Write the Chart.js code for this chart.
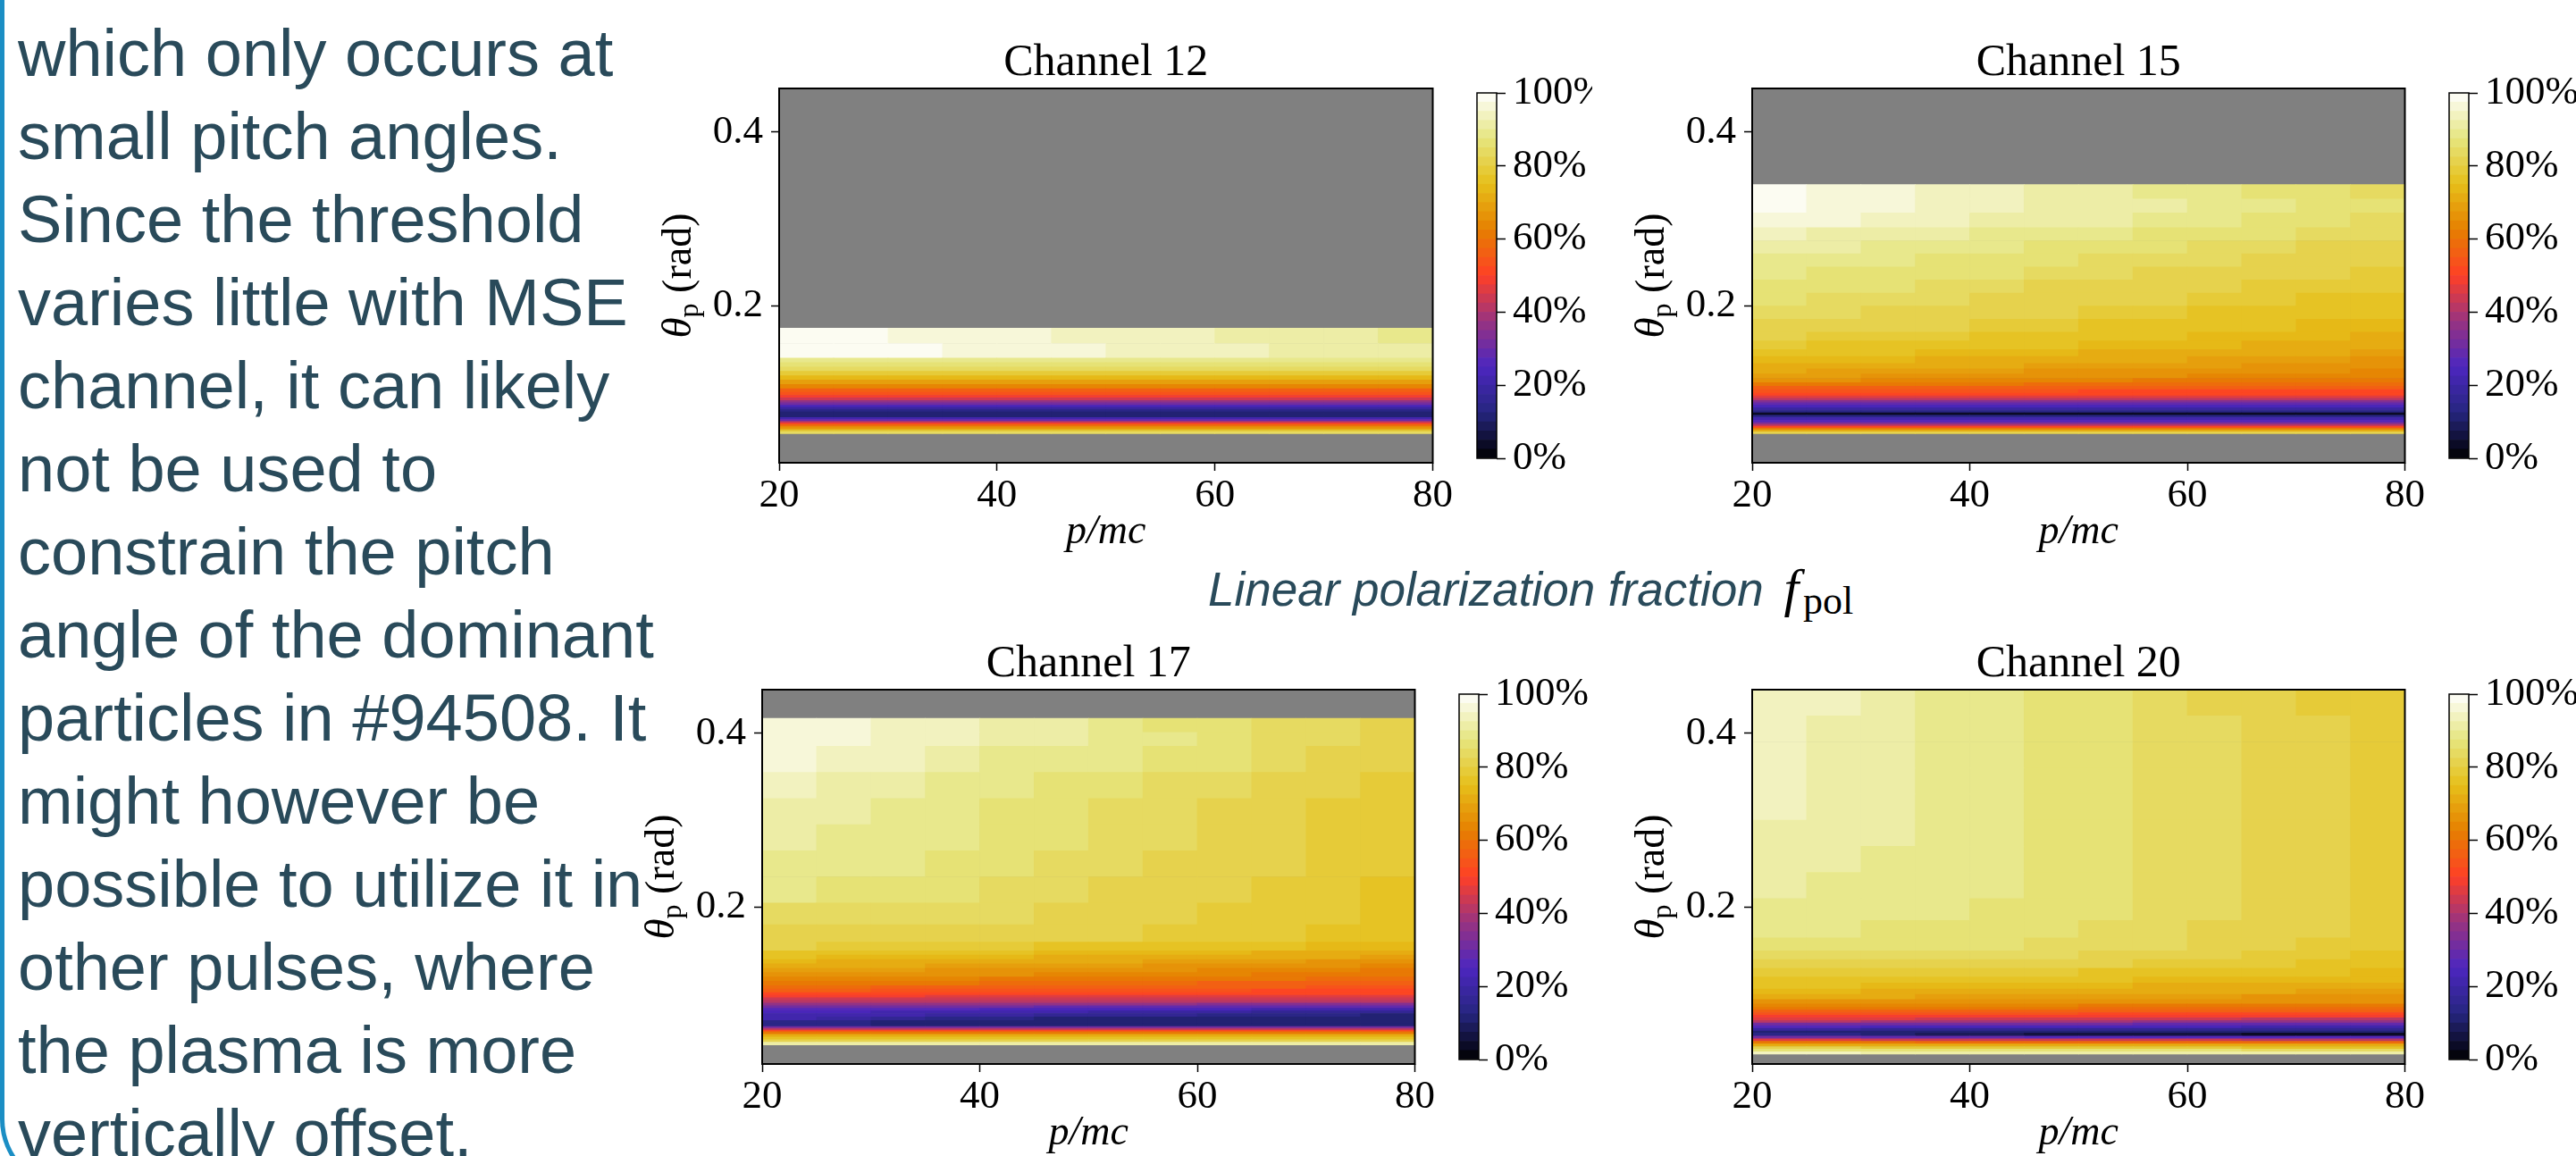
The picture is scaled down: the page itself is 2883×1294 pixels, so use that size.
<!DOCTYPE html>
<html>
<head>
<meta charset="utf-8">
<title>Linear polarization fraction</title>
<script src="https://cdn.jsdelivr.net/npm/chart.js@4.4.1/dist/chart.umd.min.js"></script>
<style>
  html, body { margin: 0; padding: 0; background: #fff; }
  body { width: 2883px; height: 1294px; position: relative; overflow: hidden; }
  #frame {
    position: absolute; left: 0; top: -100px; width: 3000px; height: 1433px; box-sizing: border-box;
    border-left: 5px solid #1b8ec4; border-bottom: 5px solid #1b8ec4; border-bottom-left-radius: 80px;
  }
  #notes {
    position: absolute; left: 20px; top: 13px; margin: 0;
    font: 74px/93px "Liberation Sans", Arial, sans-serif; color: #294a5a; white-space: nowrap;
  }
  #fpol {
    position: absolute; left: 1352px; top: 633px; white-space: nowrap;
    font: italic 53px/53px "Liberation Sans", Arial, sans-serif; color: #294a5a;
  }
  #fpol .f { font: italic 60px "Liberation Serif", serif; line-height: 0; color: #000; margin-left: 8px; }
  #fpol .sub { font: 44px "Liberation Serif", serif; line-height: 0; color: #000; position: relative; top: 9px;
               margin-left: 5px; font-style: normal; }
  canvas { position: absolute; }
</style>
</head>
<body>
<div id="frame"></div>
<div id="notes">which only occurs at<br>small pitch angles.<br>Since the threshold<br>varies little with MSE<br>channel, it can likely<br>not be used to<br>constrain the pitch<br>angle of the dominant<br>particles in #94508. It<br>might however be<br>possible to utilize it in<br>other pulses, where<br>the plasma is more<br>vertically offset.</div>
<div id="fpol">Linear polarization fraction <span class="f">f</span><span class="sub">pol</span></div>

<script>
// ---- grid and axes ----
const pCentres = [22.5, 27.5, 32.5, 37.5, 42.5, 47.5, 52.5, 57.5, 62.5, 67.5, 72.5, 77.5];
const pTicks = [20, 40, 60, 80];
const thetaTicks = [0.2, 0.4];
const cbarTicks = [0, 20, 40, 60, 80, 100];

// f_pol (%) per theta band, bottom to top; one value = same across p
const ch12Theta = [0.0534, 0.0555, 0.0575, 0.059, 0.0615, 0.064, 0.066, 0.068, 0.070, 0.072, 0.075, 0.0785,
  0.081, 0.0835, 0.086, 0.089, 0.0915, 0.0945, 0.0975, 0.101, 0.105, 0.110, 0.115, 0.120, 0.125, 0.130,
  0.135, 0.1403, 0.157, 0.1745];
const ch12Fpol = [[84], [78], [72], [65], [58], [48], [38], [28], [20], [12], [10], [14], [19], [24], [30],
  [37], [44], [49], [53], [57], [63], [69], [74], [79], [84], [87], [89],
  [99, 99, 99, 96, 96, 96, 94, 94, 94, 91, 91, 91],
  [99, 99, 96, 96, 96, 94, 94, 94, 91, 91, 91, 89]];

const ch15Theta = [0.0534, 0.0555, 0.058, 0.060, 0.062, 0.064, 0.066, 0.069, 0.072, 0.0745, 0.0775, 0.080,
  0.083, 0.086, 0.089, 0.0915, 0.094, 0.097, 0.100, 0.104, 0.108, 0.112, 0.117, 0.122, 0.128, 0.134, 0.142,
  0.150, 0.160, 0.170, 0.185, 0.200, 0.215, 0.230, 0.245, 0.260, 0.275, 0.290, 0.307, 0.323, 0.3397];
const ch15Fpol = [[80], [70], [60], [50], [42], [34], [26], [20], [14], [4], [13], [18], [23], [28], [34],
  [40], [45], [50],
  [53, 53, 53, 53, 53, 53, 52, 52, 52, 52, 52, 52],
  [57, 57, 57, 56, 56, 56, 56, 56, 55, 55, 55, 55],
  [61, 61, 60, 60, 60, 59, 59, 59, 59, 58, 58, 58],
  [65, 65, 64, 64, 63, 63, 63, 62, 62, 62, 61, 61],
  [68, 68, 67, 67, 66, 66, 65, 65, 64, 64, 63, 63],
  [70, 69, 69, 68, 68, 67, 67, 66, 66, 65, 65, 64],
  [72, 71, 71, 70, 70, 69, 69, 68, 68, 67, 67, 66],
  [74, 73, 73, 72, 71, 71, 70, 70, 69, 68, 68, 67],
  [76, 75, 75, 74, 73, 73, 72, 72, 71, 70, 70, 69],
  [78, 77, 77, 76, 75, 75, 74, 73, 73, 72, 71, 70],
  [80, 79, 79, 78, 77, 76, 76, 75, 74, 73, 73, 72],
  [82, 81, 80, 80, 79, 78, 77, 77, 76, 75, 74, 74],
  [84, 83, 82, 81, 81, 80, 79, 78, 77, 77, 76, 75],
  [85, 84, 84, 83, 82, 81, 80, 80, 79, 78, 77, 77],
  [86, 85, 85, 84, 83, 82, 82, 81, 80, 79, 79, 78],
  [88, 87, 86, 85, 85, 84, 83, 82, 81, 81, 80, 79],
  [89, 88, 88, 87, 86, 85, 84, 84, 83, 82, 81, 80],
  [91, 91, 89, 89, 89, 86, 86, 86, 84, 84, 82, 81],
  [94, 91, 91, 91, 89, 89, 89, 86, 86, 86, 84, 84],
  [96, 96, 94, 94, 91, 91, 91, 89, 89, 86, 86, 84],
  [99, 96, 96, 94, 94, 91, 91, 91, 89, 89, 86, 86],
  [99, 96, 96, 94, 94, 91, 91, 89, 89, 86, 86, 84]];

const ch17Theta = [0.042, 0.045, 0.048, 0.051, 0.054, 0.057, 0.059, 0.061, 0.063, 0.066, 0.070, 0.074,
  0.078, 0.081, 0.084, 0.087, 0.090, 0.093, 0.096, 0.099, 0.102, 0.106, 0.110, 0.115, 0.120, 0.125, 0.130,
  0.135, 0.140, 0.145, 0.150, 0.160, 0.180, 0.205, 0.235, 0.265, 0.295, 0.325, 0.355, 0.385, 0.401, 0.417];
const ch17Fpol = [[90], [82], [76], [70], [62], [52], [42], [30],
  [14, 13, 12, 12, 11, 11, 11, 10, 10, 10, 10, 10],
  [14, 13, 12, 12, 11, 11, 11, 10, 10, 10, 10, 10],
  [20, 18, 16, 14, 13, 12, 12, 12, 11, 11, 11, 11],
  [22, 21, 20, 19, 18, 17, 16, 15, 14, 13, 13, 12],
  [24, 23, 22, 21, 20, 20, 19, 18, 18, 17, 17, 16],
  [26, 26, 25, 25, 24, 24, 23, 23, 23, 22, 22, 22],
  [31, 31, 30, 30, 30, 29, 29, 29, 29, 28, 28, 28],
  [36, 36, 36, 35, 35, 35, 35, 35, 34, 34, 34, 34],
  [40], [44],
  [48, 48, 48, 47, 47, 47, 47, 47, 46, 46, 46, 46],
  [52, 52, 52, 51, 51, 51, 51, 51, 50, 50, 50, 50],
  [55, 55, 54, 54, 54, 54, 53, 53, 53, 52, 52, 52],
  [58, 58, 57, 57, 56, 56, 56, 55, 55, 55, 54, 54],
  [61, 61, 60, 60, 59, 59, 58, 58, 57, 57, 56, 56],
  [64, 64, 63, 63, 62, 62, 61, 61, 60, 60, 59, 59],
  [67, 66, 66, 65, 65, 64, 64, 63, 63, 62, 62, 61],
  [69, 68, 68, 67, 67, 66, 66, 65, 64, 64, 63, 62],
  [71, 70, 70, 69, 69, 68, 68, 67, 66, 66, 65, 64],
  [73, 72, 72, 71, 71, 70, 70, 69, 68, 68, 67, 66],
  [75, 74, 74, 73, 73, 72, 72, 71, 71, 70, 70, 69],
  [77, 76, 76, 75, 75, 74, 74, 73, 73, 72, 72, 71],
  [80, 79, 79, 78, 78, 77, 77, 76, 75, 75, 74, 73],
  [81, 81, 81, 81, 81, 81, 81, 79, 79, 79, 76, 76],
  [84, 84, 84, 84, 84, 81, 81, 81, 79, 79, 79, 76],
  [89, 86, 86, 86, 84, 84, 81, 81, 81, 79, 79, 76],
  [89, 89, 89, 86, 86, 84, 84, 81, 81, 81, 79, 79],
  [91, 89, 89, 89, 86, 86, 84, 84, 81, 81, 79, 79],
  [91, 91, 89, 89, 86, 86, 84, 84, 81, 81, 79, 79],
  [94, 91, 91, 89, 89, 86, 86, 84, 84, 81, 81, 79],
  [96, 94, 94, 91, 89, 89, 89, 86, 86, 84, 81, 81],
  [96, 96, 94, 94, 91, 91, 89, 89, 86, 84, 84, 81],
  [96, 96, 94, 94, 91, 91, 89, 86, 86, 84, 84, 81]];

const ch20Theta = [0.0313, 0.034, 0.037, 0.040, 0.043, 0.046, 0.049, 0.052, 0.0555, 0.058, 0.061, 0.064,
  0.067, 0.070, 0.073, 0.076, 0.079, 0.082, 0.085, 0.089, 0.094, 0.100, 0.106, 0.113, 0.120, 0.130, 0.140,
  0.150, 0.165, 0.185, 0.210, 0.240, 0.270, 0.300, 0.330, 0.360, 0.390, 0.420, 0.450];
const ch20Fpol = [
  [94, 93, 92, 91, 91, 91, 91, 91, 91, 91, 90, 90],
  [86, 86, 86, 86, 85, 85, 85, 85, 85, 84, 84, 84],
  [80, 80, 79, 79, 79, 78, 78, 78, 78, 77, 77, 77],
  [72, 72, 72, 71, 71, 71, 71, 71, 70, 70, 70, 70],
  [60, 60, 60, 59, 59, 59, 59, 59, 58, 58, 58, 58],
  [45, 45, 44, 44, 44, 43, 43, 43, 43, 42, 42, 42],
  [30, 30, 29, 28, 28, 27, 27, 26, 26, 25, 25, 25],
  [14, 13, 11, 9, 8, 7, 6, 5, 5, 4, 4, 4],
  [12, 12, 12, 11, 11, 11, 11, 11, 10, 10, 10, 10],
  [18, 18, 17, 17, 17, 16, 16, 16, 16, 15, 15, 15],
  [25, 25, 24, 24, 24, 23, 23, 23, 23, 22, 22, 22],
  [32, 32, 31, 31, 30, 30, 30, 29, 29, 29, 28, 28],
  [40, 40, 39, 39, 38, 38, 38, 37, 37, 37, 36, 36],
  [45, 45, 45, 44, 44, 44, 43, 43, 43, 42, 42, 42],
  [49],
  [53, 53, 53, 53, 53, 53, 52, 52, 52, 52, 52, 52],
  [57, 57, 57, 57, 57, 57, 56, 56, 56, 56, 56, 56],
  [60, 60, 60, 60, 60, 60, 59, 59, 59, 59, 59, 59],
  [63, 63, 63, 63, 63, 63, 62, 62, 62, 62, 62, 62],
  [67, 67, 67, 66, 66, 66, 66, 66, 65, 65, 65, 65],
  [70, 70, 70, 69, 69, 69, 68, 68, 68, 67, 67, 67],
  [73, 73, 72, 72, 72, 71, 71, 70, 70, 70, 69, 69],
  [75, 75, 74, 74, 74, 73, 73, 72, 72, 72, 71, 71],
  [77, 77, 76, 76, 76, 75, 75, 74, 74, 74, 73, 73],
  [79, 79, 79, 79, 79, 79, 76, 76, 76, 76, 76, 74],
  [81, 81, 81, 81, 81, 81, 81, 79, 79, 79, 76, 76],
  [84, 84, 84, 84, 84, 84, 81, 81, 81, 79, 79, 76],
  [86, 86, 86, 86, 86, 84, 84, 84, 81, 81, 79, 79],
  [89, 89, 86, 86, 86, 86, 84, 84, 81, 81, 81, 79],
  [89, 89, 89, 89, 86, 86, 86, 84, 84, 81, 81, 79],
  [91, 89, 89, 89, 89, 86, 86, 84, 84, 81, 81, 79],
  [91, 91, 89, 89, 89, 86, 86, 84, 84, 81, 81, 79],
  [91, 91, 91, 89, 89, 86, 86, 84, 84, 81, 81, 79],
  [94, 91, 91, 89, 89, 86, 86, 84, 84, 81, 81, 79],
  [94, 91, 91, 89, 89, 86, 86, 84, 84, 81, 81, 79],
  [94, 91, 91, 89, 89, 86, 86, 84, 84, 81, 81, 79],
  [94, 91, 91, 89, 89, 86, 86, 84, 84, 81, 81, 79],
  [94, 94, 91, 89, 89, 86, 86, 84, 81, 81, 79, 79]];

// ---- colour map (matplotlib CMRmap), 40 filled levels ----
const cmrStops = [0, 0.125, 0.25, 0.375, 0.5, 0.625, 0.75, 0.875, 1];
const cmrR = [0, 0.15, 0.30, 0.60, 1.00, 0.90, 0.90, 0.90, 1.00];
const cmrG = [0, 0.15, 0.15, 0.20, 0.25, 0.50, 0.75, 0.90, 1.00];
const cmrB = [0, 0.50, 0.75, 0.50, 0.15, 0.00, 0.10, 0.50, 1.00];
const levelCount = 40;
const levelStep = 100 / levelCount;

function cmr(t) {
  let k = 1;
  while (k < cmrStops.length - 1 && t > cmrStops[k]) k++;
  const f = (t - cmrStops[k - 1]) / (cmrStops[k] - cmrStops[k - 1]);
  const ch = a => Math.round(255 * (a[k - 1] + f * (a[k] - a[k - 1])));
  return 'rgb(' + ch(cmrR) + ',' + ch(cmrG) + ',' + ch(cmrB) + ')';
}

function levelColour(v) {
  let i = Math.floor(v / levelStep);
  i = Math.max(0, Math.min(levelCount - 1, i));
  return cmr((i + 0.5) / levelCount);
}

// ---- layout ----
const serif = "'Liberation Serif', 'Times New Roman', serif";
const tickFont = { family: serif, size: 45 };

const panels = [
  { name: 'Channel 12', theta: ch12Theta, fpol: ch12Fpol, box: { left: 872, top: 99, width: 735, height: 419 },
    bar: { left: 1653, clip: 1782 } },
  { name: 'Channel 15', theta: ch15Theta, fpol: ch15Fpol, box: { left: 1961, top: 99, width: 734, height: 419 },
    bar: { left: 2741, clip: 2900 } },
  { name: 'Channel 17', theta: ch17Theta, fpol: ch17Fpol, box: { left: 853, top: 772, width: 734, height: 419 },
    bar: { left: 1633, clip: 1782 } },
  { name: 'Channel 20', theta: ch20Theta, fpol: ch20Fpol, box: { left: 1961, top: 772, width: 734, height: 419 },
    bar: { left: 2741, clip: 2900 } }
];

function makeCanvas(left, top, width, height) {
  const c = document.createElement('canvas');
  c.width = width;
  c.height = height;
  c.style.left = left + 'px';
  c.style.top = top + 'px';
  c.style.width = width + 'px';
  c.style.height = height + 'px';
  document.body.appendChild(c);
  return c;
}

// gray background for the empty (NaN) part, black frame, titles
const plotFrame = {
  id: 'plotFrame',
  beforeDatasetsDraw(chart, args, opts) {
    if (!opts.background) return;
    const { ctx, chartArea: a } = chart;
    ctx.save();
    ctx.fillStyle = opts.background;
    ctx.fillRect(a.left, a.top, a.width, a.height);
    ctx.restore();
  },
  afterDatasetsDraw(chart, args, opts) {
    const { ctx, chartArea: a } = chart;
    ctx.save();
    ctx.strokeStyle = '#000';
    ctx.lineWidth = opts.lineWidth || 2;
    ctx.strokeRect(a.left, a.top, a.width, a.height);
    ctx.restore();
  },
  afterDraw(chart, args, opts) {
    if (!opts.title) return;
    const { ctx, chartArea: a } = chart;
    ctx.save();
    ctx.fillStyle = '#000';
    ctx.textBaseline = 'alphabetic';
    ctx.textAlign = 'center';
    ctx.font = '50px ' + serif;
    ctx.fillText(opts.title, (a.left + a.right) / 2, a.top - 15);

    // y axis title: theta_p (rad), rotated
    ctx.translate(a.left - 99, (a.top + a.bottom) / 2);
    ctx.rotate(-Math.PI / 2);
    ctx.textAlign = 'left';
    const fTheta = 'italic 47px ' + serif, fSub = '32px ' + serif, fRad = '46px ' + serif;
    ctx.font = fTheta; const wT = ctx.measureText('θ').width;
    ctx.font = fSub; const wS = ctx.measureText('p').width;
    ctx.font = fRad; const wR = ctx.measureText(' (rad)').width;
    let x = -(wT + wS + wR) / 2;
    ctx.font = fTheta; ctx.fillText('θ', x, 0); x += wT;
    ctx.font = fSub; ctx.fillText('p', x, 8); x += wS;
    ctx.font = fRad; ctx.fillText(' (rad)', x, 0);
    ctx.restore();
  }
};

function drawHeatmap(panel) {
  const b = panel.box;
  const padL = 150, padT = 75, padR = 20, axisH = 115;
  const canvas = makeCanvas(b.left - padL, b.top - padT, padL + b.width + padR, padT + b.height + axisH);

  const datasets = panel.fpol.map((row, r) => {
    const vals = row.length === 1 ? pCentres.map(() => row[0]) : row;
    return {
      data: pCentres.map(p => ({ x: p, y: [panel.theta[r], panel.theta[r + 1]] })),
      backgroundColor: vals.map(levelColour),
      borderWidth: 0,
      grouped: false,
      categoryPercentage: 1,
      barPercentage: 1
    };
  });

  new Chart(canvas, {
    type: 'bar',
    data: { datasets: datasets },
    options: {
      responsive: false,
      animation: false,
      devicePixelRatio: 1,
      events: [],
      layout: { padding: { left: padL - 100, top: padT, right: padR, bottom: 0 } },
      plugins: {
        legend: { display: false },
        tooltip: { enabled: false },
        plotFrame: { background: '#808080', lineWidth: 2, title: panel.name }
      },
      scales: {
        x: {
          type: 'linear', min: 20, max: 80, offset: false,
          afterBuildTicks: s => { s.ticks = pTicks.map(v => ({ value: v })); },
          afterFit: s => { s.height = axisH; },
          border: { display: false },
          grid: { display: true, offset: false, drawOnChartArea: false, drawTicks: true, tickLength: 9,
                  tickWidth: 1.5, tickColor: '#000', color: '#000' },
          ticks: { color: '#000', font: tickFont, padding: 1, maxRotation: 0 },
          title: { display: true, text: 'p/mc', color: '#000',
                   font: { family: serif, size: 46, style: 'italic' }, padding: { top: 0, bottom: 9 } }
        },
        y: {
          type: 'linear', min: 0.02, max: 0.45,
          afterBuildTicks: s => { s.ticks = thetaTicks.map(v => ({ value: v })); },
          afterFit: s => { s.width = 100; },
          border: { display: false },
          grid: { display: true, drawOnChartArea: false, drawTicks: true, tickLength: 9,
                  tickWidth: 1.5, tickColor: '#000', color: '#000' },
          ticks: { color: '#000', font: tickFont, padding: 9, callback: v => v.toFixed(1) }
        }
      }
    },
    plugins: [plotFrame]
  });
}

function drawColourbar(panel) {
  const b = panel.box;
  const barW = 22, padL = 6, padV = 30;
  const left = panel.bar.left - padL;
  const width = panel.bar.clip - left;
  const canvas = makeCanvas(left, b.top - padV, width, b.height + 2 * padV);

  const datasets = Array.from({ length: levelCount }, (_, i) => ({
    data: [levelStep],
    backgroundColor: cmr((i + 0.5) / levelCount),
    borderWidth: 0,
    categoryPercentage: 1,
    barPercentage: 1
  }));

  new Chart(canvas, {
    type: 'bar',
    data: { labels: [''], datasets: datasets },
    options: {
      responsive: false,
      animation: false,
      devicePixelRatio: 1,
      events: [],
      layout: { padding: { left: padL, top: padV, right: 0, bottom: padV } },
      plugins: {
        legend: { display: false },
        tooltip: { enabled: false },
        plotFrame: { lineWidth: 1.5 }
      },
      scales: {
        x: { display: false, stacked: true },
        y: {
          stacked: true, position: 'right', min: 0, max: 100,
          afterBuildTicks: s => { s.ticks = cbarTicks.map(v => ({ value: v })); },
          afterFit: s => { s.width = width - padL - barW; },
          border: { display: false },
          grid: { display: true, drawOnChartArea: false, drawTicks: true, tickLength: 10,
                  tickWidth: 1.5, tickColor: '#000', color: '#000' },
          ticks: { color: '#000', font: tickFont, padding: 8, callback: v => v + '%' }
        }
      }
    },
    plugins: [plotFrame]
  });
}

panels.forEach(p => { drawHeatmap(p); drawColourbar(p); });
</script>
</body>
</html>
